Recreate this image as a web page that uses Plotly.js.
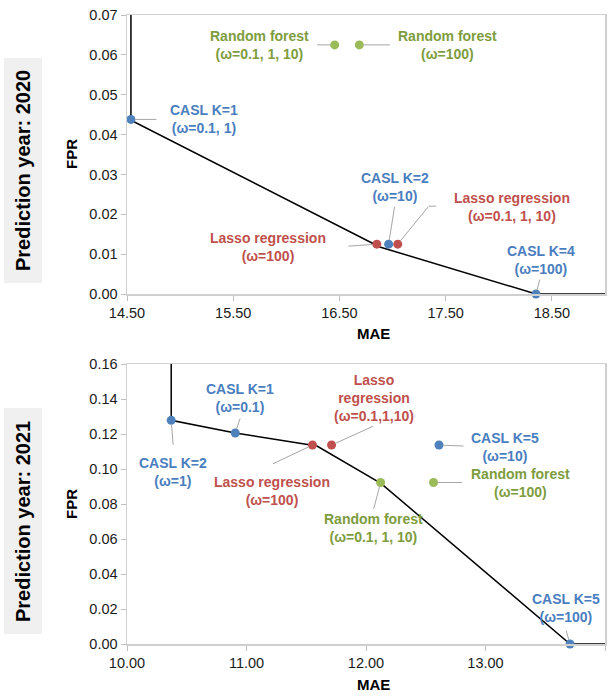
<!DOCTYPE html>
<html>
<head>
<meta charset="utf-8">
<script src="https://cdn.plot.ly/plotly-3.0.1.min.js"></script>
<style>
  html, body { margin: 0; padding: 0; background: #ffffff; }
  #chart { width: 616px; height: 696px; }
</style>
</head>
<body>
<div id="chart"></div>
<script>
// ---------------- Data: prediction year 2020 ----------------
const casl2020Labels = ['CASL K=1<br>(ω=0.1, 1)', 'CASL K=2<br>(ω=10)', 'CASL K=4<br>(ω=100)'];
const casl2020MAE = [14.537, 16.963, 18.35];
const casl2020FPR = [0.0438, 0.0125, 0.0];

const lasso2020Labels = ['Lasso regression<br>(ω=100)', 'Lasso regression<br>(ω=0.1, 1, 10)'];
const lasso2020MAE = [16.852, 17.049];
const lasso2020FPR = [0.0125, 0.0125];

const rf2020Labels = ['Random forest<br>(ω=0.1, 1, 10)', 'Random forest<br>(ω=100)'];
const rf2020MAE = [16.455, 16.687];
const rf2020FPR = [0.0625, 0.0625];

const frontier2020MAE = [14.537, 14.537, 16.88, 18.35, 19.0];
const frontier2020FPR = [0.07, 0.0436, 0.0118, 0.0, 0.0];

// ---------------- Data: prediction year 2021 ----------------
const casl2021Labels = ['CASL K=2<br>(ω=1)', 'CASL K=1<br>(ω=0.1)', 'CASL K=5<br>(ω=10)', 'CASL K=5<br>(ω=100)'];
const casl2021MAE = [10.37, 10.906, 12.611, 13.707];
const casl2021FPR = [0.1278, 0.1206, 0.1137, 0.0];

const lasso2021Labels = ['Lasso regression<br>(ω=100)', 'Lasso<br>regression<br>(ω=0.1,1,10)'];
const lasso2021MAE = [11.552, 11.712];
const lasso2021FPR = [0.1137, 0.1137];

const rf2021Labels = ['Random forest<br>(ω=0.1, 1, 10)', 'Random forest<br>(ω=100)'];
const rf2021MAE = [12.122, 12.565];
const rf2021FPR = [0.0923, 0.0923];

const frontier2021MAE = [10.37, 10.37, 10.906, 11.59, 12.125, 13.707, 14.0];
const frontier2021FPR = [0.16, 0.1278, 0.1206, 0.1131, 0.0918, 0.0, 0.0];

// Axis tick labels
const yTicks2020 = [0, 0.01, 0.02, 0.03, 0.04, 0.05, 0.06, 0.07];
const xTicks2020 = [14.5, 15.5, 16.5, 17.5, 18.5];
const yTicks2021 = [0, 0.02, 0.04, 0.06, 0.08, 0.10, 0.12, 0.14, 0.16];
const xTicks2021 = [10, 11, 12, 13, 14];

const panelTitles = ['Prediction year: 2020', 'Prediction year: 2021'];

// ---------------- Styles ----------------
const BLUE = '#4F81BD', RED = '#C0504D', GREEN = '#9BBB59';
const BLUE_T = '#4A7EBF', RED_T = '#C0504D', GREEN_T = '#7E9C3E';
const LEADER = '#A6A6A6';
const FONT = 'Liberation Sans, Arial, sans-serif';

// label offsets (text centre relative to point, px; +y up) and leader tails (px; +y down)
const off2020 = {
  casl: [[73, 0], [6, 57], [5, 34]],
  lasso: [[-109, -3], [114, 37]],
  rf: [[-75, 0], [88, 0]]
};
const tail2020 = {
  casl: [[26, 0], [6, -38], [4, -15]],
  lasso: [[-29, 2], [31, -38]],
  rf: [[-18, 0], [31, 0]]
};
const off2021 = {
  casl: [[2, -52], [5, 35], [66, -2], [-4, 36]],
  lasso: [[-40, -46], [42, 47]],
  rf: [[-7, -46], [87, -1]]
};
const tail2021 = {
  casl: [[2, 25], [5, -15], [25, 1], [-4, -14]],
  lasso: [[-40, 19], [42, -19]],
  rf: [[-7, 27], [29, 0]]
};

function pts(x, y, color, xa, ya) {
  return { x: x, y: y, xaxis: xa, yaxis: ya, type: 'scatter', mode: 'markers',
    marker: { color: color, size: 9 }, hoverinfo: 'skip', showlegend: false, cliponaxis: false };
}
function line(x, y, xa, ya) {
  return { x: x, y: y, xaxis: xa, yaxis: ya, type: 'scatter', mode: 'lines',
    line: { color: '#000000', width: 1.5 }, hoverinfo: 'skip', showlegend: false, cliponaxis: true };
}

const data = [
  line(frontier2020MAE, frontier2020FPR, 'x', 'y'),
  pts(rf2020MAE, rf2020FPR, GREEN, 'x', 'y'),
  pts(lasso2020MAE, lasso2020FPR, RED, 'x', 'y'),
  pts(casl2020MAE, casl2020FPR, BLUE, 'x', 'y'),
  line(frontier2021MAE, frontier2021FPR, 'x2', 'y2'),
  pts(rf2021MAE, rf2021FPR, GREEN, 'x2', 'y2'),
  pts(lasso2021MAE, lasso2021FPR, RED, 'x2', 'y2'),
  pts(casl2021MAE, casl2021FPR, BLUE, 'x2', 'y2')
];

const annotations = [];
function addLabels(labels, xs, ys, offs, tails, color, xr, yr) {
  for (let i = 0; i < labels.length; i++) {
    annotations.push({
      x: xs[i], y: ys[i], xref: xr, yref: yr, text: labels[i], showarrow: false,
      xshift: offs[i][0], yshift: offs[i][1], xanchor: 'center', yanchor: 'middle', align: 'center',
      font: { family: FONT, size: 14, color: color, weight: 700 }
    });
    annotations.push({
      x: xs[i], y: ys[i], xref: xr, yref: yr, text: '', showarrow: true,
      ax: tails[i][0], ay: tails[i][1], arrowhead: 0, arrowwidth: 1, arrowcolor: LEADER,
      standoff: 4, borderpad: 0, font: { size: 1 }
    });
  }
}
addLabels(casl2020Labels, casl2020MAE, casl2020FPR, off2020.casl, tail2020.casl, BLUE_T, 'x', 'y');
addLabels(lasso2020Labels, lasso2020MAE, lasso2020FPR, off2020.lasso, tail2020.lasso, RED_T, 'x', 'y');
addLabels(rf2020Labels, rf2020MAE, rf2020FPR, off2020.rf, tail2020.rf, GREEN_T, 'x', 'y');
addLabels(casl2021Labels, casl2021MAE, casl2021FPR, off2021.casl, tail2021.casl, BLUE_T, 'x2', 'y2');
addLabels(lasso2021Labels, lasso2021MAE, lasso2021FPR, off2021.lasso, tail2021.lasso, RED_T, 'x2', 'y2');
addLabels(rf2021Labels, rf2021MAE, rf2021FPR, off2021.rf, tail2021.rf, GREEN_T, 'x2', 'y2');

// elbow of the 2020 "Lasso regression (ω=0.1, 1, 10)" leader line
annotations.push({
  x: lasso2020MAE[1], y: lasso2020FPR[1], xref: 'x', yref: 'y', text: '', showarrow: true,
  xshift: 31, yshift: 38, ax: 8, ay: 0, arrowhead: 0, arrowwidth: 1, arrowcolor: LEADER,
  borderpad: 0, font: { size: 1 }
});

// axis titles
const W = 616, H = 696;
function px(xp) { return xp / W; }
function py(yp) { return 1 - yp / H; }
const titleFont = { family: FONT, size: 15, color: '#000000', weight: 700 };
annotations.push({ xref: 'paper', yref: 'paper', x: px(373), y: py(333), text: 'MAE', showarrow: false, font: titleFont, xanchor: 'center', yanchor: 'middle' });
annotations.push({ xref: 'paper', yref: 'paper', x: px(373), y: py(684), text: 'MAE', showarrow: false, font: titleFont, xanchor: 'center', yanchor: 'middle' });
annotations.push({ xref: 'paper', yref: 'paper', x: px(71), y: py(154), text: 'FPR', textangle: -90, showarrow: false, font: titleFont, xanchor: 'center', yanchor: 'middle' });
annotations.push({ xref: 'paper', yref: 'paper', x: px(71), y: py(504), text: 'FPR', textangle: -90, showarrow: false, font: titleFont, xanchor: 'center', yanchor: 'middle' });

// panel side labels
annotations.push({ xref: 'paper', yref: 'paper', x: px(23), y: py(171), text: panelTitles[0], textangle: -90, showarrow: false,
  font: { family: FONT, size: 20, color: '#000000', weight: 700 }, xanchor: 'center', yanchor: 'middle' });
annotations.push({ xref: 'paper', yref: 'paper', x: px(23), y: py(522), text: panelTitles[1], textangle: -90, showarrow: false,
  font: { family: FONT, size: 20, color: '#000000', weight: 700 }, xanchor: 'center', yanchor: 'middle' });

const shapes = [
  { type: 'rect', xref: 'paper', yref: 'paper', x0: px(4), x1: px(42), y0: py(58), y1: py(283), fillcolor: '#F0F0F0', line: { width: 0 }, layer: 'below' },
  { type: 'rect', xref: 'paper', yref: 'paper', x0: px(4), x1: px(42), y0: py(408), y1: py(634), fillcolor: '#F0F0F0', line: { width: 0 }, layer: 'below' }
];

const tickFont = { family: FONT, size: 14.5, color: '#1a1a1a' };
function axis(extra) {
  return Object.assign({
    showgrid: false, zeroline: false, showline: true, linecolor: '#D0D0D0', linewidth: 1.5, mirror: true,
    ticks: 'outside', ticklen: 5, tickcolor: '#BFBFBF', tickwidth: 1, tickfont: tickFont, fixedrange: true
  }, extra);
}

const xDom = [px(127), px(605)];
const layout = {
  width: W, height: H,
  margin: { l: 0, r: 0, t: 0, b: 0 },
  paper_bgcolor: '#ffffff', plot_bgcolor: '#ffffff',
  showlegend: false,
  xaxis: axis({ domain: xDom, anchor: 'y', range: [14.5, 19.0], tickvals: xTicks2020, ticktext: xTicks2020.map(v => v.toFixed(2)) }),
  yaxis: axis({ domain: [py(294), py(15)], anchor: 'x', range: [0, 0.07], tickvals: yTicks2020, ticktext: yTicks2020.map(v => v.toFixed(2)) }),
  xaxis2: axis({ domain: xDom, anchor: 'y2', range: [10, 14], tickvals: xTicks2021, ticktext: xTicks2021.map(v => v.toFixed(2)) }),
  yaxis2: axis({ domain: [py(644), py(364)], anchor: 'x2', range: [0, 0.16], tickvals: yTicks2021, ticktext: yTicks2021.map(v => v.toFixed(2)) }),
  annotations: annotations,
  shapes: shapes
};

Plotly.newPlot('chart', data, layout, { displayModeBar: false, staticPlot: true });
</script>
</body>
</html>
